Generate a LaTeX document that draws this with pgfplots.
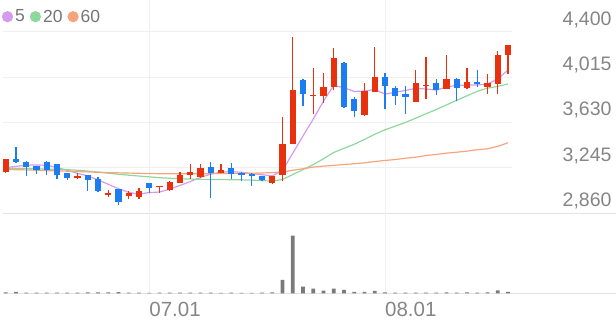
\documentclass[border=0pt]{standalone}
\usepackage{pgfplots}
\usepackage{pgfplotstable}
\pgfplotsset{compat=1.18}
\usepackage{fontspec}
\setmainfont{Liberation Sans}
\definecolor{upred}{HTML}{E8310F}
\definecolor{downblue}{HTML}{1C7CF2}
\definecolor{maA}{HTML}{D59BEE}
\definecolor{maB}{HTML}{8FD89D}
\definecolor{maC}{HTML}{F6A47C}
\definecolor{volgray}{HTML}{7A7A7A}
\definecolor{gridgray}{HTML}{F0F0F0}
\definecolor{basegray}{HTML}{E2E2E2}
\definecolor{labelgray}{HTML}{858585}
\definecolor{legendgray}{HTML}{757575}

\pgfplotstableread{
i O H L C
0 3213 3323 3204 3317
7 3162 3201 3148 3179
10 3019 3058 2998 3027
12 3007 3049 2985 3032
13 2998 3074 2985 3049
15 3083 3093 3036 3091
16 3055 3134 3052 3129
17 3120 3210 3118 3188
18 3182 3275 3148 3210
19 3167 3275 3163 3243
21 3201 3280 3198 3230
26 3120 3178 3108 3176
27 3184 3677 3134 3449
28 3449 4358 3445 3902
30 3851 4096 3703 3863
31 3857 4049 3795 3933
32 3927 4260 3908 4175
35 3691 3964 3689 3893
36 3888 4273 3885 4020
40 3804 4077 3800 3964
41 3936 4189 3832 3950
43 3914 4203 3910 3998
45 3922 4091 3918 3973
47 3927 4040 3874 3964
48 3958 4240 3874 4206
49 4206 4290 4043 4285
}\up

\pgfplotstableread{
i O H L C
1 3319 3424 3288 3291
2 3297 3300 3176 3255
3 3258 3260 3190 3230
4 3297 3300 3182 3230
5 3280 3282 3148 3182
6 3199 3200 3142 3159
8 3182 3184 3049 3140
9 3150 3167 3040 3047
11 3066 3068 2931 2956
14 3117 3120 3036 3072
20 3249 3297 2993 3201
22 3247 3289 3154 3196
23 3204 3206 3134 3188
24 3196 3198 3091 3173
25 3176 3178 3136 3140
29 3992 3998 3773 3874
33 4133 4140 3753 3762
34 3829 3846 3674 3730
37 4020 4049 3747 3939
38 3922 3942 3781 3851
39 3874 3942 3703 3843
42 3964 4001 3860 3908
44 4001 4005 3809 3922
46 3973 4071 3927 3953
}\down

\pgfplotstableread{
i m5 m20 m60
0 3247 3243 3232
1 3258 3241 3230
2 3268 3239 3228
3 3270 3237 3225
4 3267 3235 3222
5 3249 3233 3220
6 3224 3230 3217
7 3199 3225 3214
8 3177 3218 3211
9 3144 3210 3208
10 3106 3200 3205
11 3068 3191 3203
12 3038 3183 3201
13 3022 3176 3199
14 3036 3169 3197
15 3040 3162 3196
16 3064 3157 3195
17 3096 3153 3195
18 3129 3150 3195
19 3164 3148 3195
20 3192 3147 3196
21 3209 3146 3197
22 3213 3145 3198
23 3208 3144 3199
24 3197 3141 3200
25 3187 3137 3202
26 3178 3133 3205
27 3222 3147 3210
28 3368 3188 3225
29 3515 3230 3238
30 3658 3272 3252
31 3810 3322 3260
32 3945 3376 3266
33 3925 3411 3274
34 3893 3445 3280
35 3897 3486 3288
36 3910 3530 3299
37 3871 3568 3308
38 3886 3599 3316
39 3902 3630 3327
40 3920 3667 3336
41 3914 3704 3350
42 3905 3740 3359
43 3930 3779 3370
44 3946 3818 3378
45 3947 3856 3387
46 3948 3894 3399
47 3957 3921 3407
48 3998 3936 3427
49 4074 3957 3458
}\ma

\pgfplotstableread{
i v
0 80
1 150
2 70
3 60
4 70
5 60
6 70
7 60
8 80
9 100
10 90
11 110
12 70
13 60
14 50
15 60
16 70
17 60
18 70
19 60
20 60
21 50
22 60
23 50
24 50
25 60
26 80
27 1330
28 5770
29 670
30 470
31 270
32 470
33 330
34 130
35 130
36 230
37 100
38 70
39 70
40 70
41 70
42 60
43 80
44 70
45 80
46 70
47 80
48 300
49 150
}\vol

\begin{document}
\begin{tikzpicture}[x=1pt,y=1pt]
\path[use as bounding box] (0,0) rectangle (616,321);
\begin{axis}[
  at={(2.7pt,107.7pt)}, anchor=south west,
  scale only axis, width=509pt, height=181.6pt,
  xmin=-0.293, xmax=49.37, ymin=2860, ymax=4400,
  clip=false,
  axis line style={draw=none},
  major tick length=0pt,
  xtick=\empty,
  ytick={2860,3245,3630,4015,4400},
  ymajorgrids,
  grid style={draw=gridgray, line width=0.8pt},
  yticklabel pos=right,
  /pgf/number format/1000 sep={,},
  /pgf/number format/assume math mode=true,
  yticklabel style={anchor=base east, inner sep=0pt, xshift=100pt, yshift=6.5pt,
    font=\fontsize{19.5}{20}\selectfont, text=labelgray},
  legend columns=3,
  legend style={draw=none, fill=none, inner sep=0pt, at={(0,1)}, anchor=west,
    xshift=-1pt, yshift=15pt, font=\fontsize{17.5}{18}\selectfont, text=legendgray,
    nodes={inner sep=2pt},
    /tikz/every even column/.append style={column sep=3pt}},
]
\draw[gridgray, line width=0.8pt] (axis cs:14,2860) -- (axis cs:14,4400) -- ++(0pt,31.7pt);
\draw[gridgray, line width=0.8pt] (axis cs:37,2860) -- (axis cs:37,4400) -- ++(0pt,31.7pt);
\draw[basegray, line width=0.8pt] (axis cs:-0.293,2860) -- ++(613.3pt,0pt);

\addplot[color=maA, line width=1.2pt, mark=none,
  legend image code/.code={\fill[maA] (0pt,0pt) circle (5pt);}] table[x=i,y=m5]{\ma};
\addlegendentry{5}
\addplot[color=maB, line width=1.2pt, mark=none,
  legend image code/.code={\fill[maB] (0pt,0pt) circle (5pt);}] table[x=i,y=m20]{\ma};
\addlegendentry{20}
\addplot[color=maC, line width=1.2pt, mark=none,
  legend image code/.code={\fill[maC] (0pt,0pt) circle (5pt);}] table[x=i,y=m60]{\ma};
\addlegendentry{60}

% wicks
\addplot[draw=none, mark=none, forget plot,
  error bars/.cd, y dir=plus, y explicit, error mark=none,
  error bar style={draw=upred, line width=1.3pt}]
  table[x=i, y=L, y error plus expr=\thisrow{H}-\thisrow{L}]{\up};
\addplot[draw=none, mark=none, forget plot,
  error bars/.cd, y dir=plus, y explicit, error mark=none,
  error bar style={draw=downblue, line width=1.3pt}]
  table[x=i, y=L, y error plus expr=\thisrow{H}-\thisrow{L}]{\down};
% bodies
\addplot[draw=none, mark=none, forget plot,
  error bars/.cd, y dir=plus, y explicit, error mark=none,
  error bar style={draw=upred, line width=6.2pt}]
  table[x=i, y=O, y error plus expr={max(\thisrow{C}-\thisrow{O},12)}]{\up};
\addplot[draw=none, mark=none, forget plot,
  error bars/.cd, y dir=plus, y explicit, error mark=none,
  error bar style={draw=downblue, line width=6.2pt}]
  table[x=i, y=C, y error plus expr={max(\thisrow{O}-\thisrow{C},12)}]{\down};
\end{axis}

\begin{axis}[
  at={(2.7pt,27.7pt)}, anchor=south west,
  scale only axis, width=509pt, height=63.3pt,
  xmin=-0.293, xmax=49.37, ymin=0, ymax=6330,
  clip=false,
  axis line style={draw=none},
  major tick length=0pt,
  ytick=\empty,
  xtick={14,37}, xticklabels={07.01,08.01},
  xticklabel style={anchor=base west, inner sep=0pt, yshift=-23.4pt,
    font=\fontsize{20.5}{21}\selectfont, text=labelgray},
]
\draw[gridgray, line width=0.8pt] (axis cs:14,0) -- (axis cs:14,6330) -- ++(0pt,17pt);
\draw[gridgray, line width=0.8pt] (axis cs:37,0) -- (axis cs:37,6330) -- ++(0pt,17pt);
\draw[basegray, line width=0.8pt] (axis cs:-0.293,0) -- ++(613.3pt,0pt);
\addplot[ybar, bar width=3.8pt, fill=volgray, draw=none] table[x=i,y=v]{\vol};
\end{axis}
\end{tikzpicture}
\end{document}
